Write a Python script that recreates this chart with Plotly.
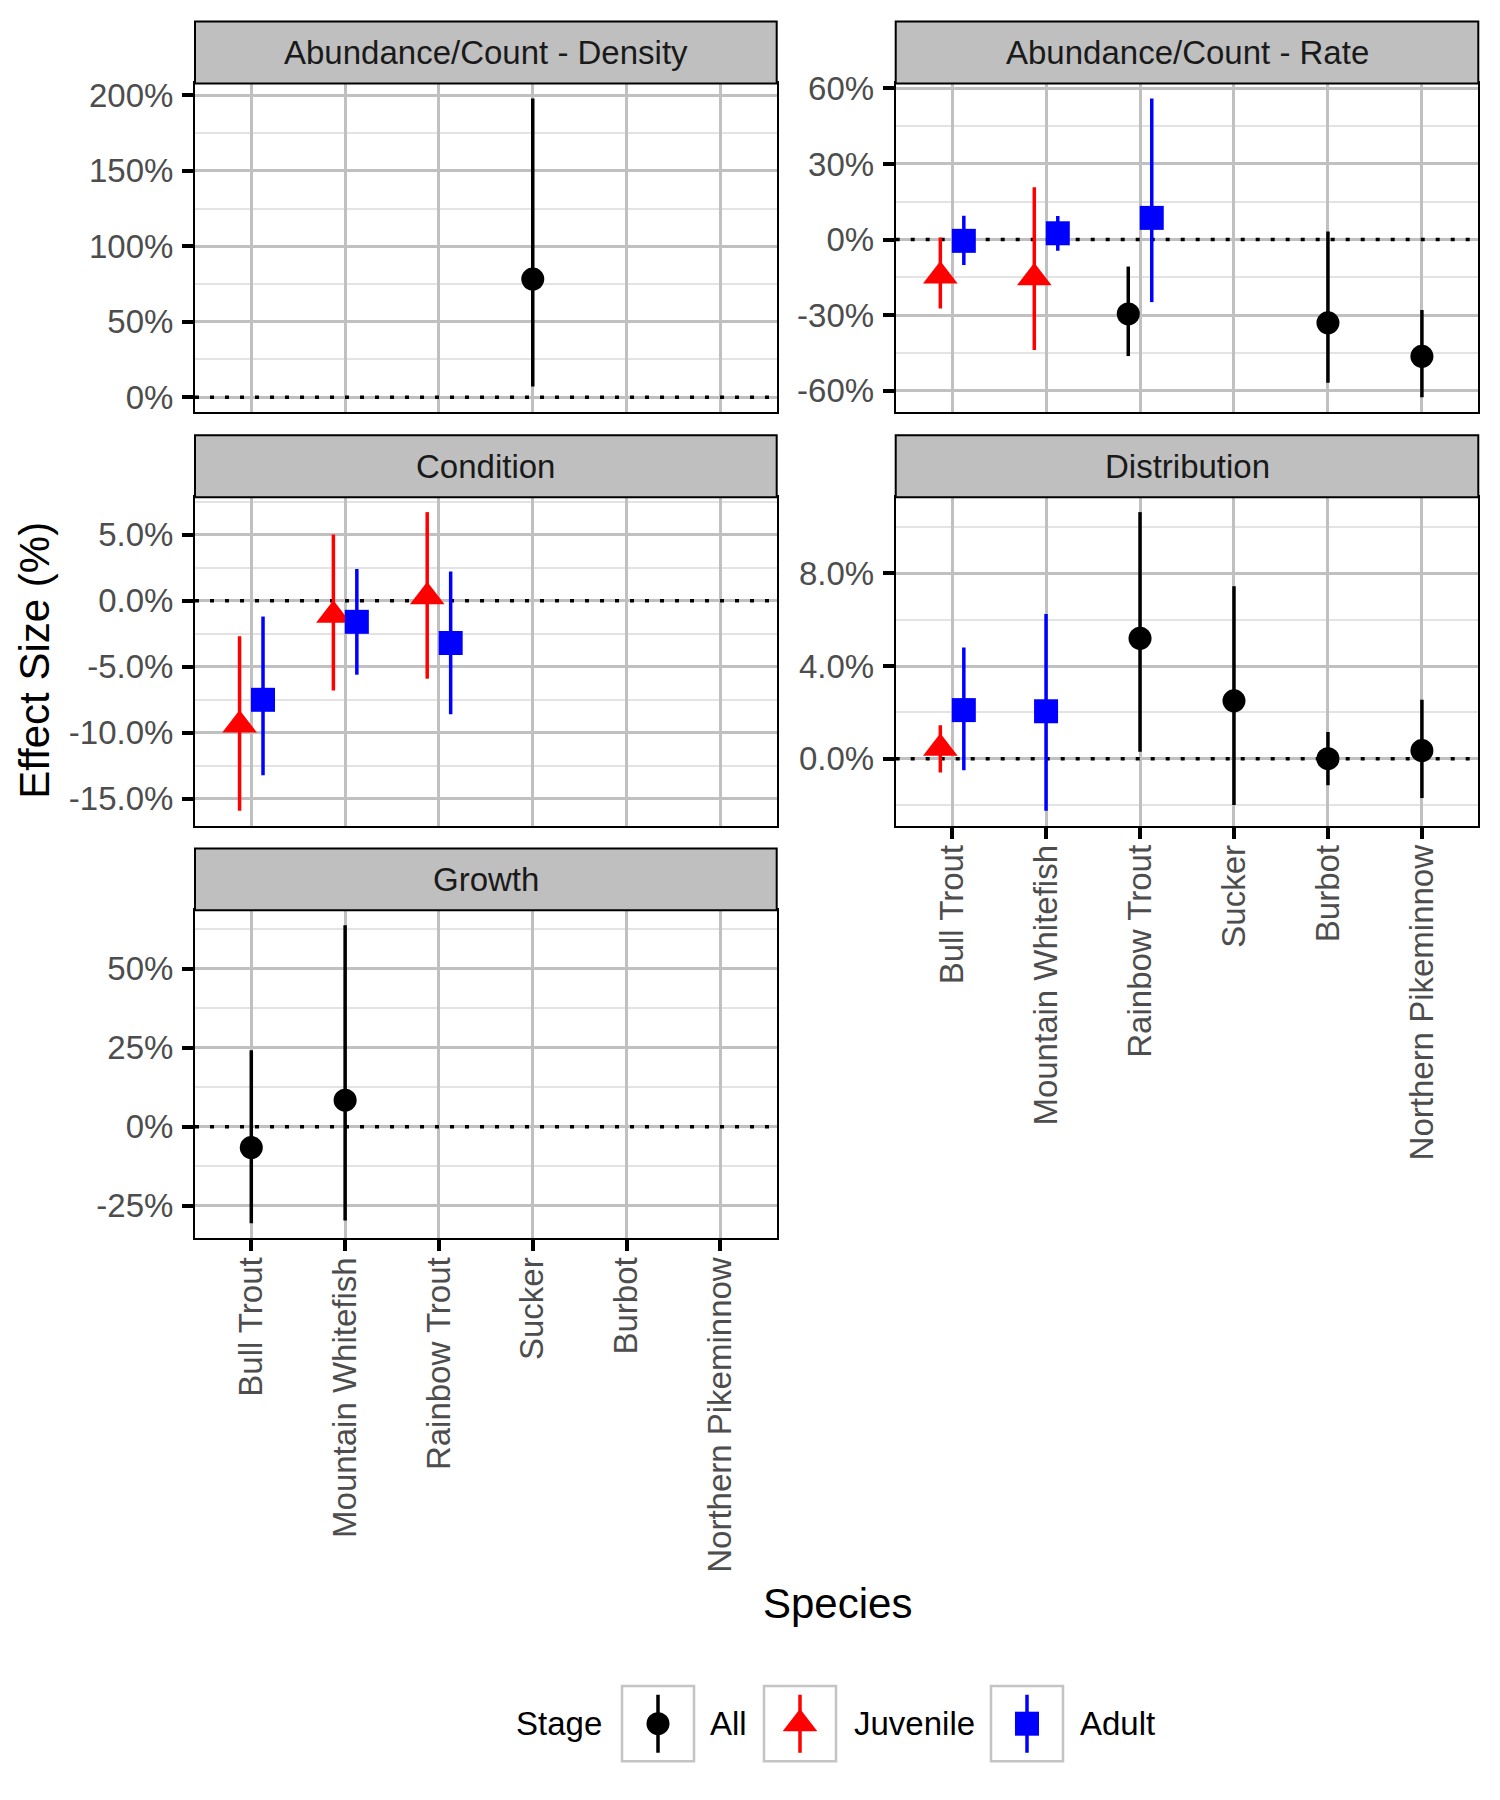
import plotly.graph_objects as go

FONT = "Liberation Sans, Arial, Helvetica, sans-serif"
W, H = 1500, 1800

# ---------------- data ----------------
species = ["Bull Trout", "Mountain Whitefish", "Rainbow Trout", "Sucker", "Burbot", "Northern Pikeminnow"]
stages = ["All", "Juvenile", "Adult"]

# Abundance/Count - Density
dens_species = ["Sucker"]
dens_stage = ["All"]
dens_est = [78.3]
dens_low = [7.0]
dens_high = [198.0]

# Abundance/Count - Rate
rate_species = ["Bull Trout", "Bull Trout", "Mountain Whitefish", "Mountain Whitefish",
                "Rainbow Trout", "Rainbow Trout", "Burbot", "Northern Pikeminnow"]
rate_stage = ["Juvenile", "Adult", "Juvenile", "Adult", "All", "Adult", "All", "All"]
rate_est = [-14.4, -0.5, -15.1, 2.5, -29.5, 8.6, -33.0, -46.3]
rate_low = [-27.3, -10.1, -43.8, -4.4, -46.2, -24.8, -56.8, -62.5]
rate_high = [0.8, 9.5, 20.8, 9.4, -10.7, 56.0, 3.2, -27.9]

# Condition
cond_species = ["Bull Trout", "Bull Trout", "Mountain Whitefish", "Mountain Whitefish",
                "Rainbow Trout", "Rainbow Trout"]
cond_stage = ["Juvenile", "Adult", "Juvenile", "Adult", "Juvenile", "Adult"]
cond_est = [-9.4, -7.5, -1.1, -1.6, 0.3, -3.2]
cond_low = [-15.9, -13.2, -6.8, -5.6, -5.9, -8.6]
cond_high = [-2.7, -1.2, 5.0, 2.4, 6.7, 2.2]

# Distribution
dist_species = ["Bull Trout", "Bull Trout", "Mountain Whitefish", "Rainbow Trout",
                "Sucker", "Burbot", "Northern Pikeminnow"]
dist_stage = ["Juvenile", "Adult", "Adult", "All", "All", "All", "All"]
dist_est = [0.45, 2.1, 2.05, 5.2, 2.5, 0.0, 0.35]
dist_low = [-0.6, -0.5, -2.25, 0.3, -2.0, -1.15, -1.7]
dist_high = [1.45, 4.8, 6.25, 10.65, 7.45, 1.15, 2.55]

# Growth
growth_species = ["Bull Trout", "Mountain Whitefish"]
growth_stage = ["All", "All"]
growth_est = [-6.6, 8.4]
growth_low = [-30.5, -29.6]
growth_high = [24.2, 63.7]

# y tick values / labels
dens_ticks = [0, 50, 100, 150, 200]
dens_labels = ["0%", "50%", "100%", "150%", "200%"]
rate_ticks = [-60, -30, 0, 30, 60]
rate_labels = ["-60%", "-30%", "0%", "30%", "60%"]
cond_ticks = [-15, -10, -5, 0, 5]
cond_labels = ["-15.0%", "-10.0%", "-5.0%", "0.0%", "5.0%"]
dist_ticks = [0, 4, 8]
dist_labels = ["0.0%", "4.0%", "8.0%"]
growth_ticks = [-25, 0, 25, 50]
growth_labels = ["-25%", "0%", "25%", "50%"]

# ---------------- styles ----------------
stage_color = {"All": "#000000", "Juvenile": "#FF0000", "Adult": "#0000FF"}
stage_symbol = {"All": "circle", "Juvenile": "triangle-up", "Adult": "square"}
stage_size = {"All": 23, "Juvenile": 30, "Adult": 24}

GRID = "#C0C0C0"
MINOR = "#E3E3E3"
TICKCOL = "#4D4D4D"
STRIP_FILL = "#BFBFBF"
TICK_FS = 33
TITLE_FS = 42
LINE_W = 3.5

col_x = {0: (195.0, 776.7), 1: (895.7, 1478.3)}
row_y = {0: (70.1, 401.9), 1: (487.8, 819.5), 2: (904.9, 1235.8)}
STRIP_H = 62.5
DODGE = 0.25
XRANGE = [-0.6, len(species) - 1 + 0.6]

panels = [
    ("Abundance/Count - Density", dens_species, dens_stage, dens_est, dens_low, dens_high,
     dens_ticks, dens_labels, 0, 0, False),
    ("Abundance/Count - Rate", rate_species, rate_stage, rate_est, rate_low, rate_high,
     rate_ticks, rate_labels, 1, 0, False),
    ("Condition", cond_species, cond_stage, cond_est, cond_low, cond_high,
     cond_ticks, cond_labels, 0, 1, False),
    ("Distribution", dist_species, dist_stage, dist_est, dist_low, dist_high,
     dist_ticks, dist_labels, 1, 1, True),
    ("Growth", growth_species, growth_stage, growth_est, growth_low, growth_high,
     growth_ticks, growth_labels, 0, 2, True),
]


def px_x(v):
    return v / W


def px_y(v):
    return 1 - v / H


fig = go.Figure()
shapes = []
annotations = []
layout_axes = {}

for i, (name, sp, stg, est, low, high, yt, yl, col, row, showx) in enumerate(panels):
    n = i + 1
    xs = "" if n == 1 else str(n)
    xa, ya = "x" + xs, "y" + xs

    # dotted zero reference line (drawn first, under the data)
    fig.add_trace(go.Scatter(
        x=XRANGE, y=[0, 0], xaxis=xa, yaxis=ya, mode="lines", showlegend=False,
        hoverinfo="skip", line=dict(color="#000000", width=LINE_W, dash="4px,11px"),
    ))

    # dodge positions
    xpos = []
    for s, g in zip(sp, stg):
        present = [st for st in stages if any(a == s and b == st for a, b in zip(sp, stg))]
        k = len(present)
        j = present.index(g)
        xpos.append(species.index(s) + (j - (k - 1) / 2) * DODGE)

    for st in stages:
        idx = [t for t, g in enumerate(stg) if g == st]
        if not idx:
            continue
        fig.add_trace(go.Scatter(
            x=[xpos[t] for t in idx], y=[est[t] for t in idx],
            xaxis=xa, yaxis=ya, mode="markers", showlegend=False, cliponaxis=False,
            marker=dict(symbol=stage_symbol[st], size=stage_size[st], color=stage_color[st],
                        line=dict(width=0)),
            error_y=dict(type="data", symmetric=False,
                         array=[high[t] - est[t] for t in idx],
                         arrayminus=[est[t] - low[t] for t in idx],
                         thickness=LINE_W, width=0, color=stage_color[st]),
        ))

    lo = min(min(low), 0.0)
    hi = max(max(high), 0.0)
    span = hi - lo
    yr = [lo - 0.05 * span, hi + 0.05 * span]
    d = yt[1] - yt[0]
    minors = [t + d / 2 for t in [yt[0] - d] + yt]
    minors = [m for m in minors if yr[0] <= m <= yr[1]]

    x0, x1 = col_x[col]
    ytop, ybot = row_y[row]

    layout_axes["xaxis" + xs] = dict(
        domain=[px_x(x0), px_x(x1)], anchor=ya, range=XRANGE,
        tickmode="array", tickvals=list(range(len(species))),
        ticktext=species if showx else [""] * len(species),
        showticklabels=showx, tickangle=-90,
        ticks="outside" if showx else "", ticklen=11, tickwidth=LINE_W, tickcolor="#000000",
        ticklabelstandoff=-7,
        tickfont=dict(family=FONT, size=TICK_FS, color=TICKCOL),
        showgrid=True, gridcolor=GRID, gridwidth=2.7, zeroline=False,
        showline=True, mirror=True, linecolor="#000000", linewidth=2,
    )
    layout_axes["yaxis" + xs] = dict(
        domain=[px_y(ybot), px_y(ytop)], anchor=xa, range=yr,
        tickmode="array", tickvals=yt, ticktext=yl,
        ticks="outside", ticklen=11, tickwidth=LINE_W, tickcolor="#000000",
        ticklabelstandoff=2,
        tickfont=dict(family=FONT, size=TICK_FS, color=TICKCOL),
        showgrid=True, gridcolor=GRID, gridwidth=2.7, zeroline=False,
        minor=dict(tickmode="array", tickvals=minors, showgrid=True,
                   gridcolor=MINOR, gridwidth=1.5, ticks=""),
        showline=True, mirror=True, linecolor="#000000", linewidth=2,
    )

    # strip
    shapes.append(dict(type="rect", xref="paper", yref="paper",
                       x0=px_x(x0), x1=px_x(x1), y0=px_y(ytop), y1=px_y(ytop - STRIP_H),
                       fillcolor=STRIP_FILL, line=dict(color="#000000", width=2), layer="above"))
    annotations.append(dict(xref="paper", yref="paper", x=px_x((x0 + x1) / 2),
                            y=px_y(ytop - STRIP_H / 2), text=name, showarrow=False,
                            xanchor="center", yanchor="middle",
                            font=dict(family=FONT, size=TICK_FS, color="#1A1A1A")))

# axis titles
annotations.append(dict(xref="paper", yref="paper", x=px_x(35), y=px_y(653),
                        text="Effect Size (%)", textangle=-90, showarrow=False,
                        xanchor="center", yanchor="middle",
                        font=dict(family=FONT, size=TITLE_FS, color="#000000")))
annotations.append(dict(xref="paper", yref="paper", x=px_x(837), y=px_y(1605),
                        text="Species", showarrow=False, xanchor="center", yanchor="middle",
                        font=dict(family=FONT, size=TITLE_FS, color="#000000")))

# ---------------- custom legend ----------------
key_centers = [658, 800, 1027]
key_half = 36
label_left = [708, 852, 1078]
LEG_TOP, LEG_BOT = 1688, 1764
layout_axes["xaxis6"] = dict(domain=[0, 1], anchor="y6", range=[0, W], visible=False)
layout_axes["yaxis6"] = dict(domain=[px_y(LEG_BOT), px_y(LEG_TOP)], anchor="x6",
                             range=[-1.3, 1.3], visible=False)
for st, cx, lx in zip(stages, key_centers, label_left):
    shapes.append(dict(type="rect", xref="x6", yref="y6 domain", x0=cx - key_half, x1=cx + key_half,
                       y0=0, y1=1, fillcolor="#FFFFFF", line=dict(color="#C4C4C4", width=2.5),
                       layer="below"))
    fig.add_trace(go.Scatter(
        x=[cx], y=[0], xaxis="x6", yaxis="y6", mode="markers", showlegend=False, cliponaxis=False,
        marker=dict(symbol=stage_symbol[st], size=stage_size[st], color=stage_color[st],
                    line=dict(width=0)),
        error_y=dict(type="data", symmetric=True, array=[1.0], thickness=LINE_W, width=0,
                     color=stage_color[st]),
    ))
    annotations.append(dict(xref="x6", yref="y6", x=lx, y=0, text=st, showarrow=False,
                            xanchor="left", yanchor="middle",
                            font=dict(family=FONT, size=TICK_FS, color="#000000")))
annotations.append(dict(xref="x6", yref="y6", x=key_centers[0] - key_half - 18, y=0, text="Stage",
                        showarrow=False, xanchor="right", yanchor="middle",
                        font=dict(family=FONT, size=TICK_FS, color="#000000")))

fig.update_layout(
    width=W, height=H, margin=dict(l=0, r=0, t=0, b=0),
    paper_bgcolor="#FFFFFF", plot_bgcolor="#FFFFFF",
    showlegend=False, shapes=shapes, annotations=annotations,
    font=dict(family=FONT),
    **layout_axes,
)

fig.write_html("out.html", config={"displayModeBar": False},
               post_script="document.body.style.margin='0';")
